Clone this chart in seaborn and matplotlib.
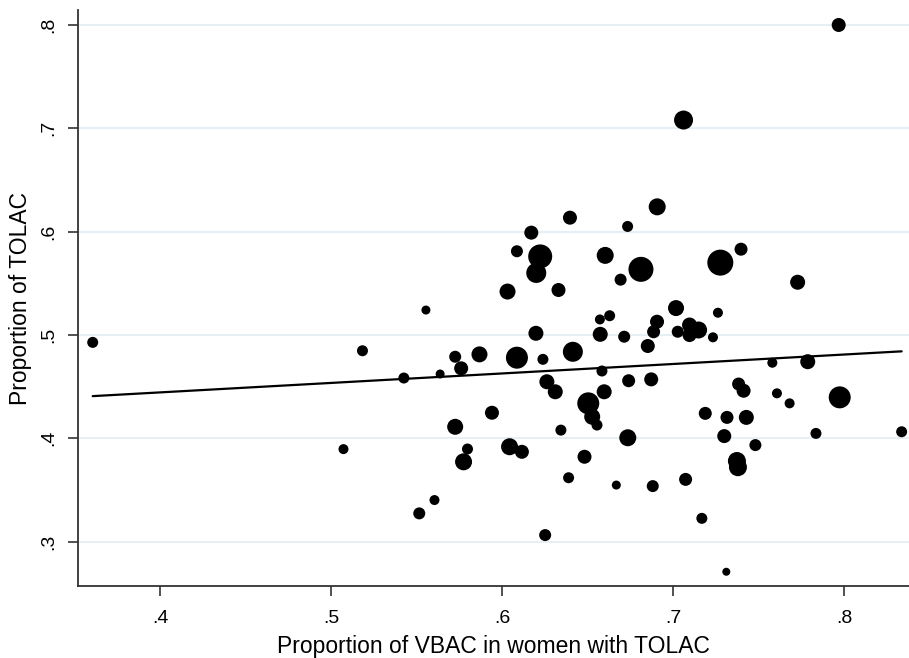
import numpy as np
import pandas as pd
import matplotlib
matplotlib.use("Agg")
import matplotlib.pyplot as plt
import seaborn as sns

# Data (proportion of VBAC among TOLAC, proportion of TOLAC, marker weight)
vbac = [0.7967, 0.7060, 0.6906, 0.6396, 0.6733, 0.6170, 0.6086, 0.6222, 0.6199, 0.6031,
        0.6329, 0.6602, 0.6811, 0.6692, 0.7275, 0.7396, 0.7727, 0.7016, 0.7261, 0.6571,
        0.6628, 0.6905, 0.6885, 0.6197, 0.6573, 0.6713, 0.7026, 0.7095, 0.7148, 0.7095,
        0.7232, 0.6851, 0.6413, 0.6086, 0.5867, 0.5725, 0.5760, 0.6238, 0.6583, 0.6739,
        0.6871, 0.6261, 0.6310, 0.6596, 0.6503, 0.6526, 0.6554, 0.5940, 0.5725, 0.6343,
        0.6734, 0.6043, 0.6115, 0.5797, 0.5774, 0.6481, 0.6388, 0.6667, 0.6880, 0.7072,
        0.6251, 0.7167, 0.7310, 0.7187, 0.7314, 0.7298, 0.7427, 0.7480, 0.7372, 0.7378,
        0.7382, 0.7411, 0.7579, 0.7786, 0.7606, 0.7680, 0.7973, 0.7834, 0.8335, 0.3606,
        0.5183, 0.5554, 0.5425, 0.5637, 0.5072, 0.5515, 0.5604]
tolac = [0.800, 0.708, 0.624, 0.6135, 0.605, 0.599, 0.581, 0.576, 0.560, 0.542,
         0.5435, 0.577, 0.5635, 0.5535, 0.570, 0.583, 0.551, 0.526, 0.5215, 0.515,
         0.5186, 0.5128, 0.5031, 0.5016, 0.5006, 0.4983, 0.5031, 0.5096, 0.5048, 0.4999,
         0.4977, 0.4893, 0.4837, 0.478, 0.4812, 0.4789, 0.4677, 0.4764, 0.4651, 0.4557,
         0.4570, 0.4547, 0.4450, 0.4450, 0.4338, 0.4208, 0.4128, 0.4247, 0.4111, 0.4079,
         0.4005, 0.3918, 0.3869, 0.3896, 0.3772, 0.3821, 0.3618, 0.3547, 0.3537, 0.3602,
         0.3063, 0.3225, 0.2708, 0.4241, 0.4202, 0.4021, 0.4202, 0.3934, 0.3780, 0.3720,
         0.4525, 0.4460, 0.4731, 0.4741, 0.4435, 0.4338, 0.4396, 0.4047, 0.4063, 0.4928,
         0.4847, 0.5241, 0.4583, 0.4622, 0.3895, 0.3273, 0.3402]
weight = [196, 361, 289, 196, 121, 196, 144, 576, 400, 256,
          196, 289, 625, 144, 676, 169, 225, 256, 100, 100,
          121, 196, 169, 225, 225, 144, 144, 225, 289, 196,
          100, 196, 400, 484, 256, 144, 196, 121, 121, 169,
          196, 225, 225, 225, 484, 256, 121, 196, 256, 121,
          289, 289, 196, 121, 289, 196, 121, 81, 144, 169,
          144, 121, 64, 169, 169, 196, 225, 144, 324, 324,
          169, 196, 100, 225, 100, 100, 484, 121, 121, 121,
          121, 81, 121, 81, 100, 144, 100]

xticks = [0.4, 0.5, 0.6, 0.7, 0.8]
yticks = [0.3, 0.4, 0.5, 0.6, 0.7, 0.8]

df = pd.DataFrame({"vbac": vbac, "tolac": tolac, "w": weight})

sns.set_theme(style="white")
plt.rcParams["font.family"] = ["Liberation Sans", "DejaVu Sans"]
plt.rcParams["text.color"] = "black"
plt.rcParams["axes.labelcolor"] = "black"
plt.rcParams["xtick.color"] = "black"
plt.rcParams["ytick.color"] = "black"

fig = plt.figure(figsize=(9.09, 6.58), dpi=100)
ax = fig.add_axes([0.0858, 0.1094, 0.9142, 0.8754])

for yt in yticks:
    ax.axhline(yt, color="#e2eef2", lw=1.2, zorder=0)

px2pt = (72 / 100) ** 2
wmax = max(weight)
sns.scatterplot(data=df, x="vbac", y="tolac", size="w", sizes=(0, wmax * px2pt),
                size_norm=(0, wmax), color="black", linewidth=0, legend=False,
                ax=ax, zorder=3)

# linear fit (ordinary least squares) over the data range
sns.regplot(data=df, x="vbac", y="tolac", scatter=False, ci=None, truncate=True,
            color="black", line_kws={"lw": 1.6, "zorder": 4}, ax=ax)

ax.set_xlim(0.352, 0.8378)
ax.set_ylim(0.257, 0.8145)
ax.set_xticks(xticks)
ax.set_yticks(yticks)
ax.set_xticklabels([f"{v:.1f}".lstrip("0") for v in xticks], fontsize=14)
ax.set_yticklabels([f"{v:.1f}".lstrip("0") for v in yticks], fontsize=14,
                   rotation=90, va="center")
ax.tick_params(axis="both", which="major", length=7, width=1.2, color="#333333",
               labelcolor="black", direction="out", bottom=True, left=True)
ax.tick_params(axis="x", pad=10)
ax.tick_params(axis="y", pad=8)

for s in ["top", "right"]:
    ax.spines[s].set_visible(False)
for s in ["left", "bottom"]:
    ax.spines[s].set_color("#333333")
    ax.spines[s].set_linewidth(1.3)

ax.set_xlabel("Proportion of VBAC in women with TOLAC", fontsize=16.5, labelpad=6)
ax.set_ylabel("Proportion of TOLAC", fontsize=16.5, labelpad=6)
ax.grid(False)

fig.savefig("out.png", dpi=100)
